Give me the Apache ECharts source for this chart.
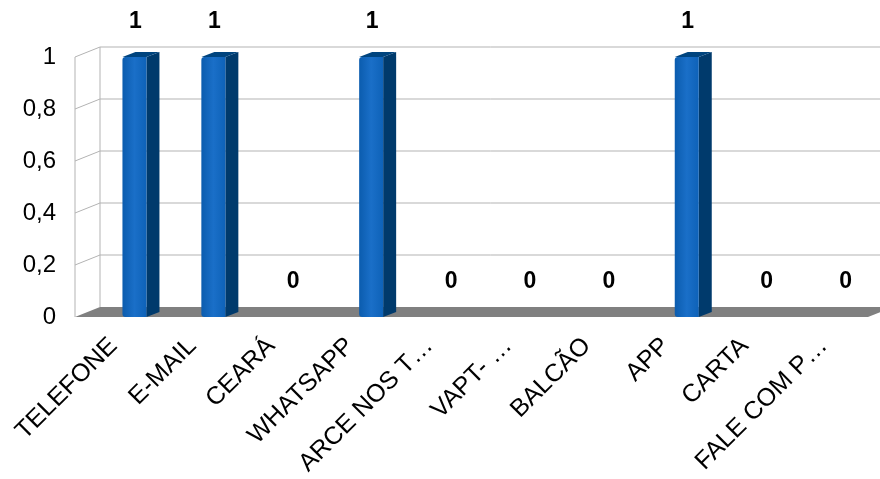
<!DOCTYPE html>
<html>
<head>
<meta charset="utf-8">
<script src="https://cdn.jsdelivr.net/npm/echarts@6/dist/echarts.min.js"></script>
<style>
  html, body { margin: 0; padding: 0; background: #fff; }
  #chart { width: 880px; height: 479px; }
</style>
</head>
<body>
<div id="chart"></div>
<script>
const categories = ['TELEFONE', 'E-MAIL', 'CEARÁ', 'WHATSAPP', 'ARCE NOS T…', 'VAPT- …', 'BALCÃO', 'APP', 'CARTA', 'FALE COM P…']
const values = [1, 1, 0, 1, 0, 0, 0, 1, 0, 0]
const yTicks = [0, 0.2, 0.4, 0.6, 0.8, 1]

// pseudo 3d offsets (px)
const wallFront = -21
const wallBack = 4
const wallDy = -10
const barW = 24
const barDx = 13
const barDy = -5
const gridColor = '#b3b3b3'

const chart = echarts.init(document.getElementById('chart'))

const option = {
  animation: false,
  textStyle: { fontFamily: 'Liberation Sans' },
  grid: [
    { left: 96, width: 789, top: 57, height: 260, outerBoundsMode: 'none' },
    // labels of the floor edge sit a bit to the front-left
    { left: 74, width: 789, top: 51, height: 260, outerBoundsMode: 'none' }
  ],
  xAxis: [
    {
      type: 'category',
      data: categories,
      gridIndex: 0,
      axisLine: { show: false },
      axisTick: { show: false },
      axisLabel: { show: false }
    },
    {
      type: 'category',
      data: categories,
      gridIndex: 1,
      axisLine: { show: false },
      axisTick: { show: false },
      axisLabel: {
        interval: 0,
        rotate: 45,
        fontSize: 25,
        color: '#000',
        margin: 31
      }
    }
  ],
  yAxis: [
    {
      type: 'value',
      gridIndex: 0,
      min: 0,
      max: 1,
      interval: 0.2,
      axisLine: { show: false },
      axisTick: { show: false },
      splitLine: { show: false },
      axisLabel: {
        fontSize: 24,
        color: '#000',
        margin: 40,
        formatter: (v) => String(Math.round(v * 10) / 10).replace('.', ',')
      }
    },
    {
      type: 'value',
      gridIndex: 1,
      show: false,
      min: 0,
      max: 1
    }
  ],
  series: [
    {
      // walls, gridlines and floor
      type: 'custom',
      z: 1,
      silent: true,
      data: yTicks.map((v) => [0, v]),
      encode: { x: 0, y: 1 },
      renderItem: function (params, api) {
        const cs = params.coordSys
        const y = api.coord([0, api.value(1)])[1]
        const fx = cs.x + wallFront
        const bx = cs.x + wallBack
        const by = y + wallDy
        const right = cs.x + cs.width
        const children = []
        if (api.value(1) === 0) {
          const y1 = api.coord([0, 1])[1]
          children.push({
            type: 'line',
            shape: { x1: fx, y1: y1, x2: fx, y2: y },
            style: { stroke: gridColor, lineWidth: 1 }
          })
          children.push({
            type: 'line',
            shape: { x1: bx, y1: y1 + wallDy, x2: bx, y2: by },
            style: { stroke: gridColor, lineWidth: 1 }
          })
          children.push({
            type: 'polygon',
            shape: { points: [[fx, y], [right - 17, y], [right + 8, by], [bx, by]] },
            style: { fill: '#808080' }
          })
        } else {
          children.push({
            type: 'polyline',
            shape: { points: [[fx, y], [bx, by], [right + 10, by]] },
            style: { stroke: gridColor, lineWidth: 1, fill: null }
          })
        }
        return { type: 'group', children: children }
      }
    },
    {
      // 3d bars with value labels
      type: 'custom',
      z: 3,
      data: values.map((v, i) => [i, v]),
      encode: { x: 0, y: 1 },
      renderItem: function (params, api) {
        const top = api.coord([api.value(0), api.value(1)])
        const base = api.coord([api.value(0), 0])
        const cx = top[0] - 1
        const x0 = cx - barW / 2
        const x1 = cx + barW / 2
        const children = []
        if (api.value(1) > 0) {
          children.push({
            type: 'polygon',
            shape: { points: [[x1, top[1]], [x1 + barDx, top[1] + barDy], [x1 + barDx, base[1] + barDy], [x1, base[1]]] },
            style: { fill: '#003a6c' }
          })
          children.push({
            type: 'polygon',
            shape: { points: [[x0, top[1]], [x0 + barDx, top[1] + barDy], [x1 + barDx, top[1] + barDy], [x1, top[1]]] },
            style: { fill: '#00447e' }
          })
          children.push({
            type: 'rect',
            shape: { x: x0, y: top[1], width: barW, height: base[1] - top[1], r: [3, 0, 0, 3] },
            style: {
              fill: new echarts.graphic.LinearGradient(0, 0, 1, 0, [
                { offset: 0, color: '#0b5cae' },
                { offset: 0.5, color: '#1a6fc8' },
                { offset: 1, color: '#0e62b8' }
              ])
            }
          })
        }
        children.push({
          type: 'text',
          style: {
            text: String(api.value(1)),
            x: cx + 1,
            y: top[1] - 35,
            align: 'center',
            verticalAlign: 'middle',
            font: 'bold 23px "Liberation Sans"',
            fill: '#000'
          }
        })
        return { type: 'group', children: children }
      }
    }
  ]
}

chart.setOption(option)
window.addEventListener('resize', function () {
  chart.resize()
})
</script>
</body>
</html>
